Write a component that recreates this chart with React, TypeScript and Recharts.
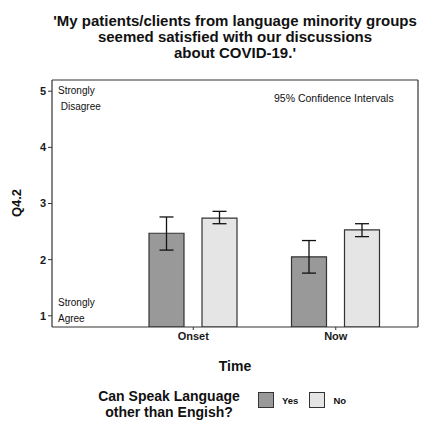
import {
  BarChart, Bar, XAxis, YAxis, ErrorBar, ReferenceLine,
} from "recharts";

// mean ratings with 95% confidence bounds, per time point
const TIMES = ["Onset", "Now"];
const YES_MEAN = [2.47, 2.05];
const YES_LOW = [2.17, 1.76];
const YES_HIGH = [2.76, 2.34];
const NO_MEAN = [2.74, 2.53];
const NO_LOW = [2.64, 2.41];
const NO_HIGH = [2.86, 2.64];
const Y_TICKS = [1, 2, 3, 4, 5];

const SERIES = [
  { key: "yes", label: "Yes", fill: "#999999" },
  { key: "no", label: "No", fill: "#e5e5e5" },
];

const data = TIMES.map((t, i) => ({
  time: t,
  yes: YES_MEAN[i],
  yesErr: [YES_MEAN[i] - YES_LOW[i], YES_HIGH[i] - YES_MEAN[i]],
  no: NO_MEAN[i],
  noErr: [NO_MEAN[i] - NO_LOW[i], NO_HIGH[i] - NO_MEAN[i]],
}));

const FONT = "'Liberation Sans', Arial, sans-serif";
const EDGE = "#333333";

const abs = (style: React.CSSProperties): React.CSSProperties => ({
  position: "absolute",
  fontFamily: FONT,
  color: "#111",
  whiteSpace: "nowrap",
  ...style,
});

export default function App() {
  return (
    <div style={{ position: "absolute", left: 0, top: 0, width: 421, height: 421, background: "#fff", overflow: "hidden" }}>
      <BarChart
        width={421}
        height={421}
        data={data}
        margin={{ top: 80, right: 0, bottom: 74, left: 0 }}
        barSize={35}
        barGap={18}
      >
        <XAxis
          dataKey="time"
          height={20}
          padding={{ left: 70, right: 11 }}
          axisLine={{ stroke: EDGE, strokeWidth: 1.2 }}
          tickLine={{ stroke: EDGE }}
          tickSize={3}
          tick={{ fill: "#1a1a1a", fontSize: 11, fontWeight: 700, fontFamily: FONT }}
        />
        <YAxis
          type="number"
          width={52}
          domain={[0.8, 5.2]}
          ticks={Y_TICKS}
          allowDataOverflow
          axisLine={{ stroke: EDGE, strokeWidth: 1.2 }}
          tickLine={{ stroke: EDGE }}
          tickSize={4}
          tickMargin={2}
          tick={{ fill: "#1a1a1a", fontSize: 11, fontWeight: 700, fontFamily: FONT }}
        />
        <YAxis
          yAxisId="r"
          orientation="right"
          type="number"
          width={3}
          domain={[0.8, 5.2]}
          tick={false}
          tickLine={false}
          axisLine={{ stroke: EDGE, strokeWidth: 1.2 }}
        />
        <ReferenceLine y={5.2} stroke={EDGE} strokeWidth={1.2} />
        {SERIES.map((s) => (
          <Bar
            key={s.key}
            dataKey={s.key}
            fill={s.fill}
            stroke={EDGE}
            strokeWidth={1.2}
            isAnimationActive={false}
          >
            <ErrorBar
              dataKey={s.key + "Err"}
              width={7}
              stroke="#111"
              strokeWidth={1.3}
              direction="y"
              isAnimationActive={false}
            />
          </Bar>
        ))}
      </BarChart>

      <div style={abs({ left: 35, top: 13, width: 400, textAlign: "center", fontSize: 15, fontWeight: 700, lineHeight: "16px" })}>
        'My patients/clients from language minority groups<br />
        seemed satisfied with our discussions<br />
        about COVID-19.'
      </div>

      <div style={abs({ left: 58, top: 83, fontSize: 10, lineHeight: "16px" })}>
        Strongly<br />&nbsp;Disagree
      </div>
      <div style={abs({ left: 58, top: 295, fontSize: 10, lineHeight: "16px" })}>
        Strongly<br />Agree
      </div>
      <div style={abs({ left: 274, top: 92, fontSize: 10.5, lineHeight: "13px" })}>
        95% Confidence Intervals
      </div>

      <div style={abs({ left: 0, top: 195, width: 34, height: 16, textAlign: "center", fontSize: 13, fontWeight: 700, lineHeight: "16px", transform: "rotate(-90deg)" })}>
        Q4.2
      </div>
      <div style={abs({ left: 185, top: 357, width: 100, textAlign: "center", fontSize: 14, fontWeight: 700, lineHeight: "18px" })}>
        Time
      </div>

      <div style={abs({ left: 89, top: 388, width: 160, textAlign: "center", fontSize: 14, fontWeight: 700, lineHeight: "16px" })}>
        Can Speak Language<br />other than Engish?
      </div>
      <div style={abs({ left: 258, top: 392, display: "flex", alignItems: "center", fontSize: 9.5, fontWeight: 700 })}>
        {SERIES.map((s) => (
          <div key={s.key} style={{ display: "flex", alignItems: "center", marginRight: 11 }}>
            <div style={{ width: 14, height: 14, background: s.fill, border: `1px solid ${EDGE}`, marginRight: 8 }} />
            <span>{s.label}</span>
          </div>
        ))}
      </div>
    </div>
  );
}
